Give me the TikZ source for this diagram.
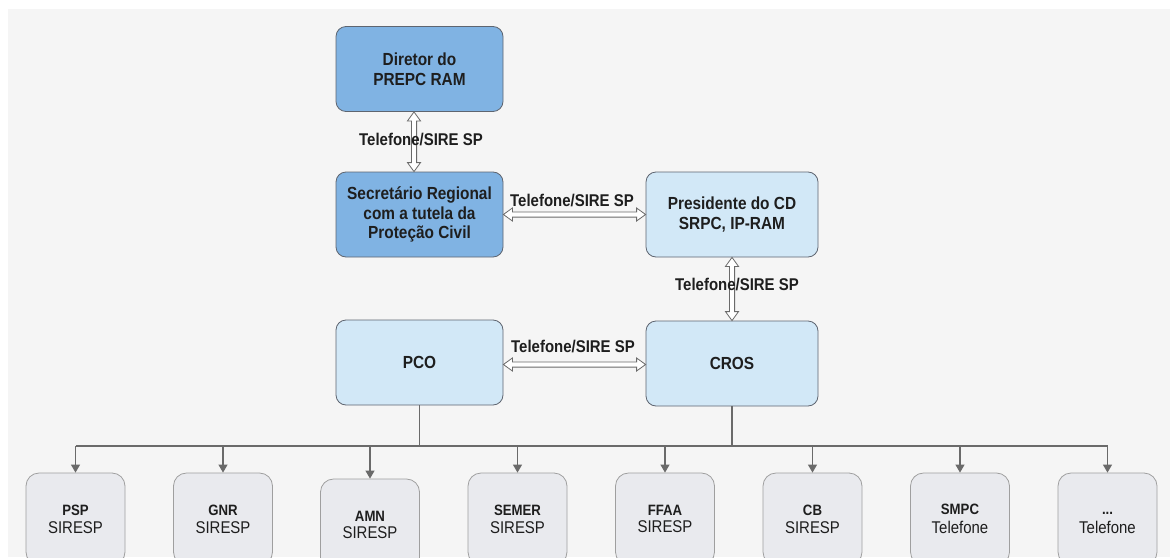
\documentclass[tikz,border=0pt]{standalone}
\usepackage{fontspec}
\setmainfont{Liberation Sans}[FakeStretch=0.88]
\usetikzlibrary{arrows.meta,calc}
\definecolor{bgc}{HTML}{F5F5F5}
\definecolor{bluedark}{HTML}{80B3E3}
\definecolor{bluelight}{HTML}{D2E8F7}
\definecolor{grayfill}{HTML}{E9EAEE}
\definecolor{edgec}{HTML}{5E6570}
\definecolor{linec}{HTML}{6A6A6A}
\definecolor{txt}{HTML}{1E1E1E}
\tikzset{
  topbox/.style={draw=edgec, line width=0.8pt, rounded corners=10pt, minimum height=85pt,
    align=center, inner sep=0pt, text=txt, font=\bfseries\fontsize{17.5}{19.5}\selectfont},
  bluebox/.style={topbox, fill=bluedark, minimum width=167pt},
  lightbox/.style={topbox, fill=bluelight, minimum width=172pt},
  unitbox/.style={draw=gray!75, line width=0.8pt, rounded corners=13pt, fill=grayfill,
    minimum width=99pt, minimum height=92pt, align=center, inner sep=0pt, text=txt},
  blockarrow/.style={draw=linec, line width=0.8pt, fill=white, line join=miter,
    to path={let \p1=(\tikztostart), \p2=(\tikztotarget),
      \p3=($(\p1)!9pt!(\p2)$), \p4=($(\p2)!9pt!(\p1)$) in
      (\p1) -- ($(\p3)!6.5pt!90:(\p2)$) -- ($(\p3)!2.6pt!90:(\p2)$)
      -- ($(\p4)!2.6pt!-90:(\p1)$) -- ($(\p4)!6.5pt!-90:(\p1)$) -- (\p2)
      -- ($(\p4)!6.5pt!90:(\p1)$) -- ($(\p4)!2.6pt!90:(\p1)$)
      -- ($(\p3)!2.6pt!-90:(\p2)$) -- ($(\p3)!6.5pt!-90:(\p2)$) -- cycle}},
  lbl/.style={font=\bfseries\fontsize{17}{19}\selectfont, text=txt, inner sep=0pt},
  wire/.style={draw=linec, line width=1.1pt},
  feed/.style={wire, -{Triangle[length=8pt,width=9pt]}}
}
\newcommand{\unit}[2]{{\bfseries\fontsize{15}{17}\selectfont\vphantom{A}#1}\\[5pt]{\fontsize{17}{18}\selectfont #2}}
\begin{document}
\begin{tikzpicture}[x=1pt,y=-1pt]
\useasboundingbox (0,0) rectangle (1170,557);
\clip (0,0) rectangle (1170,557);
\fill[white] (0,0) rectangle (1170,557);
\fill[bgc] (8,9) rectangle (1170,557);

\node[bluebox] (dir) at (419.5,69) {Diretor do\\PREPC RAM};
\node[bluebox] (sec) at (419.5,214.5) {Secretário Regional\\com a tutela da\\Proteção Civil};
\node[lightbox] (pres) at (732,214.5) {Presidente do CD\\SRPC, IP-RAM};
\node[bluebox, fill=bluelight] (pco) at (419.5,362.5) {PCO};
\node[lightbox] (cros) at (732,363.5) {CROS};

\draw[blockarrow] ([xshift=-5.5pt]dir.south) to ([xshift=-5.5pt]sec.north);
\draw[blockarrow] (sec.east) to (pres.west);
\draw[blockarrow] (pres.south) to (cros.north);
\draw[blockarrow] ([yshift=-2pt]pco.east) to ([yshift=-1pt]cros.west);

\node[lbl] (l1) at (421,140) {Telefone/SIRE SP};
\node[lbl] (l2) at (572,201) {Telefone/SIRE SP};
\node[lbl] (l3) at (737,285) {Telefone/SIRE SP};
\node[lbl] (l4) at (573,347) {Telefone/SIRE SP};

\coordinate (bus) at (0,446);
\node[unitbox] (u1) at (75.5,519) {\unit{PSP}{SIRESP}};
\node[unitbox] (u2) at (223,519) {\unit{GNR}{SIRESP}};
\node[unitbox] (u3) at (370,525) {\unit{AMN}{SIRESP}};
\node[unitbox] (u4) at (517.5,519) {\unit{SEMER}{SIRESP}};
\node[unitbox] (u5) at (665,519) {\unit{FFAA}{SIRESP}};
\node[unitbox] (u6) at (812.5,519) {\unit{CB}{SIRESP}};
\node[unitbox] (u7) at (960,519) {\unit{SMPC}{Telefone}};
\node[unitbox] (u8) at (1107.5,519) {\unit{...}{Telefone}};

\draw[wire] (pco.south) -- (pco.south |- bus);
\draw[wire] (cros.south) -- (cros.south |- bus);
\draw[wire] (u1.north |- bus) -- (u8.north |- bus);
\foreach \u in {u1,u2,u3,u4,u5,u6,u7,u8}
  \draw[feed] (\u.north |- bus) -- (\u.north);
\end{tikzpicture}
\end{document}
